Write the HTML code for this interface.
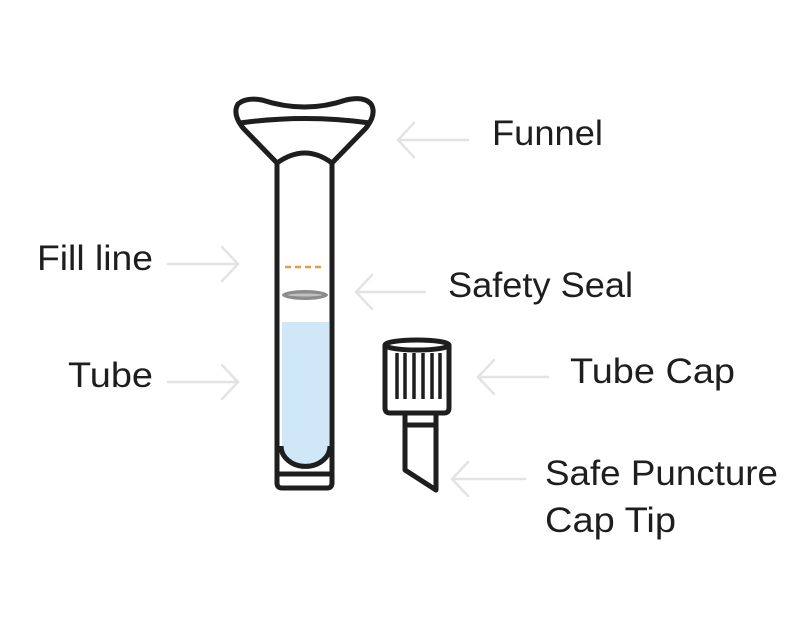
<!DOCTYPE html>
<html><head><style>html,body{margin:0;padding:0;background:#fff}svg{display:block}</style></head>
<body>
<svg width="800" height="637" viewBox="0 0 800 637" xmlns="http://www.w3.org/2000/svg">
<g fill="none" stroke="#e3e3e3" stroke-width="2.5" stroke-linecap="round">
  <path d="M398 140H468M414 123L398 140L414 157"/>
  <path d="M356 292H425M372 275L356 292L372 309"/>
  <path d="M478 377H548M494 360L478 377L494 394"/>
  <path d="M452 479H525M468 462L452 479L468 496"/>
  <path d="M168 264H238M222 247L238 264L222 281"/>
  <path d="M168 382H238M222 365L238 382L222 399"/>
</g>
<!-- tube -->
<path d="M282 322H329V446A23.5 18 0 0 1 282 446Z" fill="#cfe7f6"/>
<ellipse cx="305" cy="295" rx="23" ry="5" fill="#8c8c8c"/>
<ellipse cx="305" cy="295" rx="17" ry="1.5" fill="#c0c0c0"/>
<path d="M285 267H325" stroke="#e89a4a" stroke-width="2.5" stroke-dasharray="6 4"/>
<g fill="none" stroke="#1e1e1e" stroke-width="5" stroke-linejoin="round">
  <path d="M277 163V483Q277 488 282 488H327Q332 488 332 483V163"/>
  <path d="M279 474H330"/>
  <path d="M281 446A24 20 0 0 0 330 446"/>
  <path d="M277 163Q305 143 332 163"/>
  <path d="M277 163L243 128Q232 114 238 104Q246 97 262 100Q305 114 346 100Q364 96 371 104Q377 114 366 128L332 163"/>
  <path d="M240 123Q305 114 370 123"/>
  <!-- cap -->
  <ellipse cx="417" cy="345" rx="32" ry="5"/>
  <path d="M385 345V408Q385 413 390 413H444Q449 413 449 408V345"/>
  <path d="M397 353V399M405 353V399M414 353V399M423 353V399M432 353V399M440 353V399" stroke-width="3.5"/>
  <path d="M405 413V425H436V413"/>
  <path d="M405 425V470L436 490V425"/>
</g>
<g font-family="Liberation Sans, sans-serif" font-size="35" fill="#1e1e1e">
  <text x="492" y="145" textLength="111" lengthAdjust="spacingAndGlyphs">Funnel</text>
  <text x="37" y="270" textLength="116" lengthAdjust="spacingAndGlyphs">Fill line</text>
  <text x="448" y="297" textLength="185" lengthAdjust="spacingAndGlyphs">Safety Seal</text>
  <text x="68" y="387" textLength="85" lengthAdjust="spacingAndGlyphs">Tube</text>
  <text x="570" y="383" textLength="165" lengthAdjust="spacingAndGlyphs">Tube Cap</text>
  <text x="545" y="485" textLength="233" lengthAdjust="spacingAndGlyphs">Safe Puncture</text>
  <text x="545" y="532" textLength="131" lengthAdjust="spacingAndGlyphs">Cap Tip</text>
</g>
</svg>
</body></html>
